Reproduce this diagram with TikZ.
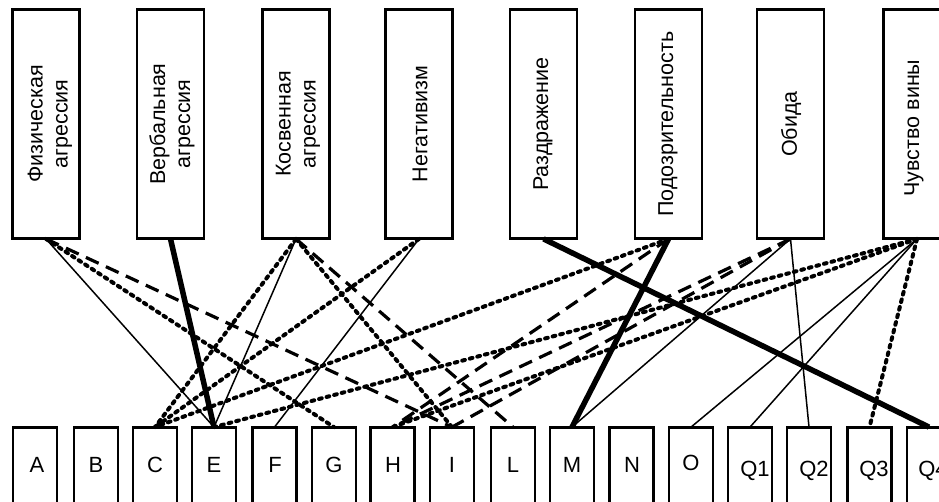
\documentclass[tikz,border=0pt]{standalone}
\usepackage{fontspec}
\setmainfont{Liberation Sans}
\begin{document}
\begin{tikzpicture}[x=1pt,y=-1pt,
  topbox/.style={draw, line width=1.8pt, fill=white, minimum width=66pt, minimum height=228pt, inner sep=0pt},
  botbox/.style={draw, line width=1.8pt, fill=white, minimum width=43pt, minimum height=100pt, inner sep=0pt},
  toptext/.style={rotate=90, align=center, inner sep=0pt, font=\fontsize{21.5}{25}\selectfont},
  bottext/.style={inner sep=0pt, font=\fontsize{22}{24}\selectfont},
  lthin/.style={line width=1.5pt},
  lthick/.style={line width=5.5pt},
  ldash/.style={line width=3.2pt, dash pattern=on 14pt off 8pt},
  ldot/.style={line width=4pt, line cap=round, dash pattern=on 2.8pt off 5pt},
]
\useasboundingbox (0,0) rectangle (939,501);
\clip (0,0) rectangle (939,501);

% top boxes
\node[topbox] (f1) at (46,124) {};
\node[topbox] (f2) at (170.5,124) {};
\node[topbox] (f3) at (296,124) {};
\node[topbox] (f4) at (419,124) {};
\node[topbox] (f5) at (543.5,124) {};
\node[topbox] (f6) at (668.5,124) {};
\node[topbox] (f7) at (790.5,124) {};
\node[topbox] (f8) at (917,124) {};

% bottom boxes
\node[botbox] (bA) at (35,478) {};
\node[botbox] (bB) at (96,478) {};
\node[botbox] (bC) at (155,478) {};
\node[botbox] (bE) at (214,478) {};
\node[botbox] (bF) at (274.5,478) {};
\node[botbox] (bG) at (334,478) {};
\node[botbox] (bH) at (392.5,478) {};
\node[botbox] (bI) at (452,478) {};
\node[botbox] (bL) at (513,478) {};
\node[botbox] (bM) at (572,478) {};
\node[botbox] (bN) at (631.5,478) {};
\node[botbox] (bO) at (691,478) {};
\node[botbox] (bQ1) at (750,478) {};
\node[botbox] (bQ2) at (809,478) {};
\node[botbox] (bQ3) at (869.5,478) {};
\node[botbox] (bQ4) at (929,478) {};

% connectors
\draw[lthin] (f1.south) -- (bE.north);
\draw[ldash] (f1.south) -- (bI.north);
\draw[ldot] (f1.south) -- (bG.north);
\draw[lthick] (f2.south) -- (bE.north);
\draw[ldot] (f3.south) -- (bC.north);
\draw[lthin] (f3.south) -- (bE.north);
\draw[ldot] (f3.south) -- (bI.north);
\draw[ldash] (f3.south) -- (bL.north);
\draw[ldot] (f4.south) -- (bC.north);
\draw[lthin] (f4.south) -- (bF.north);
\draw[lthick] (f5.south) -- (bQ4.north);
\draw[lthick] (f6.south) -- (bM.north);
\draw[ldot] (f6.south) -- (bC.north);
\draw[ldash] (f6.south) -- (bH.north);
\draw[lthin] (f7.south) -- (bQ2.north);
\draw[lthin] (f7.south) -- (bM.north);
\draw[ldash] (f7.south) -- (bH.north);
\draw[ldash] (f7.south) -- (bI.north);
\draw[ldot] (f8.south) -- (bQ3.north);
\draw[lthin] (f8.south) -- (bQ1.north);
\draw[lthin] (f8.south) -- (bO.north);
\draw[ldot] (f8.south) -- (bE.north);
\draw[ldot] (f8.south) -- (bH.north);

% redraw box outlines on top of line ends
\foreach \n in {f1,f2,f3,f4,f5,f6,f7,f8,bA,bB,bC,bE,bF,bG,bH,bI,bL,bM,bN,bO,bQ1,bQ2,bQ3,bQ4}
  \draw[line width=1.8pt] (\n.north west) rectangle (\n.south east);

% top labels
\node[toptext] (t1) at (50,124) {Физическая\\агрессия};
\node[toptext] (t2) at (172,124) {Вербальная\\агрессия};
\node[toptext] (t3) at (298,124) {Косвенная\\агрессия};
\node[toptext] (t4) at (420,124) {Негативизм};
\node[toptext] (t5) at (543,124) {Раздражение};
\node[toptext] (t6) at (668,124) {Подозрительность};
\node[toptext] (t7) at (791,124) {Обида};
\node[toptext] (t8) at (914,128) {Чувство вины};

% bottom labels
\node[bottext] (lA) at (37,465) {A};
\node[bottext] (lB) at (96,465) {B};
\node[bottext] (lC) at (155,465) {C};
\node[bottext] (lE) at (214,465) {E};
\node[bottext] (lF) at (275,465) {F};
\node[bottext] (lG) at (334,465) {G};
\node[bottext] (lH) at (393,465) {H};
\node[bottext] (lI) at (452,465) {I};
\node[bottext] (lL) at (513,465) {L};
\node[bottext] (lM) at (572,465) {M};
\node[bottext] (lN) at (632,465) {N};
\node[bottext] (lO) at (691,463) {O};
\node[bottext] (lQ1) at (755,471) {Q1};
\node[bottext] (lQ2) at (814,471) {Q2};
\node[bottext] (lQ3) at (874,471) {Q3};
\node[bottext] (lQ4) at (933,471) {Q4};
\end{tikzpicture}
\end{document}
